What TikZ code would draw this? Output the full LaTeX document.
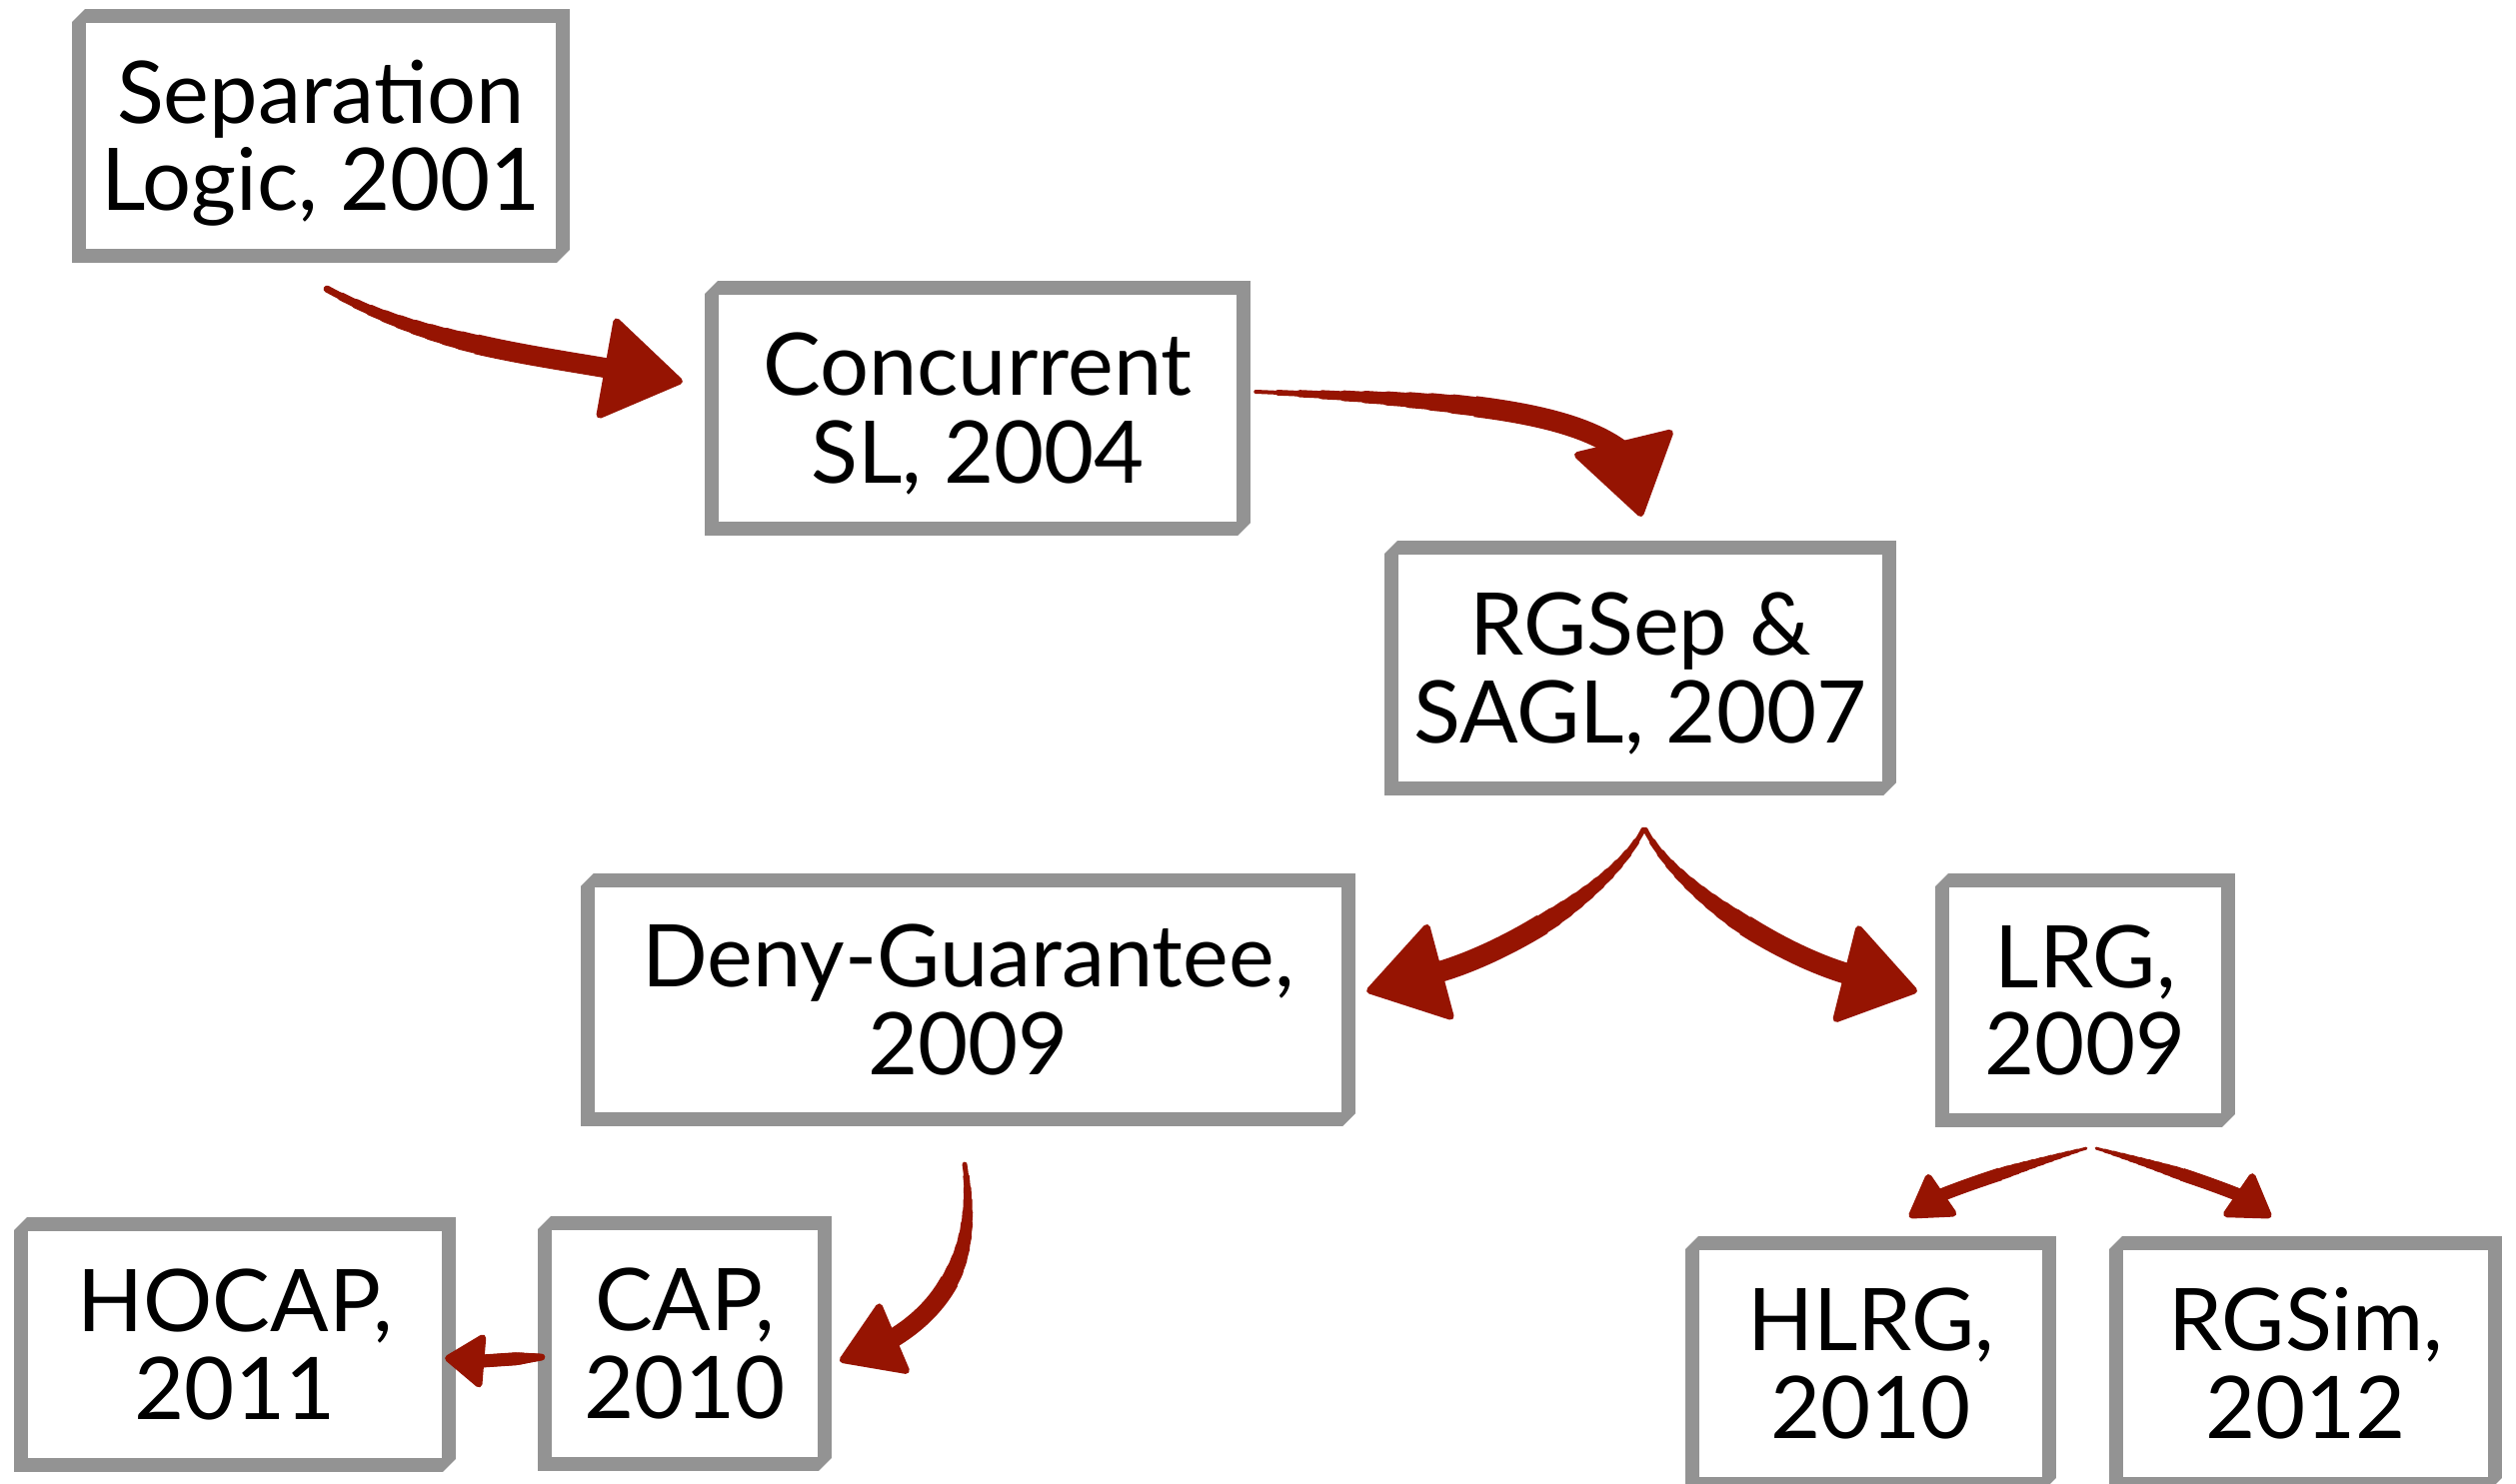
\documentclass[tikz,border=0pt]{standalone}
\usepackage{fontspec}
\setmainfont{Lato}
\usetikzlibrary{arrows.meta,calc}
\definecolor{boxgray}{RGB}{147,147,147}
\definecolor{brushred}{RGB}{150,20,2}
\newcommand\boxline[1]{\raisebox{0pt}[0.62cm][0pt]{#1}}
\newcommand\brushconn[6]{%
  \foreach \k in {0,1,2,3,4,5,6,7,8,9}{%
    \pgfmathsetmacro\brlw{#2+(#3-#2)*\k/10}%
    \pgfmathsetmacro\broff{#4*\k/10+0.001}%
    \pgfmathsetmacro\brsh{#5*0.6}%
    \draw[shaft, line width=\brlw cm, dash pattern=on 100cm off \broff cm, dash phase=100cm, shorten >=\brsh cm] #1;
  }%
  \draw[shaft, line cap=butt, line width=#3cm, dash pattern=on 100cm off #4cm, dash phase=100cm,
        -{Triangle[length=#5cm, width=#6cm, line width=0.07cm, round]}] #1;
}
\begin{document}
\begin{tikzpicture}[x=0.01cm, y=-0.01cm,
  paper/.style={draw=boxgray, line width=0.14cm, fill=white, inner sep=0pt, outer sep=0.07cm,
    align=center, font=\fontsize{24.6pt}{25pt}\selectfont},
  shaft/.style={draw=brushred, line cap=round, line join=round}]
\useasboundingbox (0,0) rectangle (2517,1484);
\fill[white] (0,0) rectangle (2517,1484);

\node[paper, minimum width=4.84cm, minimum height=2.40cm] (sl) at (321,136) {\boxline{Separation}\\\boxline{Logic, 2001}};
\node[paper, minimum width=5.32cm, minimum height=2.41cm] (csl) at (978,408.5) {\boxline{Concurrent}\\\boxline{SL, 2004}};
\node[paper, minimum width=4.98cm, minimum height=2.41cm] (rgsep) at (1641,668.5) {\boxline{RGSep \&}\\\boxline{SAGL, 2007}};
\node[paper, minimum width=7.61cm, minimum height=2.39cm] (deny) at (968.5,1000.5) {\boxline{Deny-Guarantee,}\\\boxline{2009}};
\node[paper, minimum width=2.86cm, minimum height=2.40cm] (lrg) at (2086,1001) {\boxline{LRG,}\\\boxline{2009}};
\node[paper, minimum width=4.28cm, minimum height=2.41cm] (hocap) at (235,1345.5) {\boxline{HOCAP,}\\\boxline{2011}};
\node[paper, minimum width=2.80cm, minimum height=2.41cm] (cap) at (685,1344.5) {\boxline{CAP,}\\\boxline{2010}};
\node[paper, minimum width=3.57cm, minimum height=2.41cm] (hlrg) at (1871.5,1364.5) {\boxline{HLRG,}\\\boxline{2010}};
\node[paper, minimum width=3.79cm, minimum height=2.41cm] (rgsim) at (2306.5,1364.5) {\boxline{RGSim,}\\\boxline{2012}};

\foreach \n in {sl,csl,rgsep,deny,lrg,hocap,cap,hlrg,rgsim}{
  \fill[white] (\n.north west) -- ++(13,0) -- ++(-13,13) -- cycle;
  \fill[white] (\n.south east) -- ++(-13,0) -- ++(13,-13) -- cycle;
}

\brushconn{($(sl.south)+(6,26)$) .. controls +(95,52) and +(-100,-17) .. ($(csl.west)+(-94,-39.5)$) -- ($(csl.west)+(-22,-26.5)$)}{0.07}{0.20}{1.6}{0.82}{1.06}
\brushconn{($(csl.east)+(5,-16.5)$) .. controls +(200,8) and +(-54,-45) .. ($(rgsep.north)+(-14,-86)$) -- ($(rgsep.north)+(1,-24)$)}{0.04}{0.21}{2.2}{0.81}{1.06}
\brushconn{($(rgsep.south)+(3,34)$) .. controls +(-30,60) and +(70,-20) .. ($(deny.east)+(82,-27.5)$) -- ($(deny.east)+(11,-8.5)$)}{0.05}{0.21}{1.4}{0.81}{1.03}
\brushconn{($(rgsep.south)+(5,34)$) .. controls +(30,60) and +(-70,-20) .. ($(lrg.west)+(-86,-26)$) -- ($(lrg.west)+(-18,-9)$)}{0.05}{0.21}{1.4}{0.78}{1.04}
\brushconn{($(deny.south)+(-3.5,38)$) .. controls +(13,85) and +(58,-35) .. ($(cap.east)+(60,-4.5)$) -- ($(cap.east)+(8,17.5)$)}{0.05}{0.19}{1.2}{0.64}{0.80}
\brushconn{($(cap.west)+(4,13.5)$) -- ($(hocap.east)+(26,16.5)$) -- ($(hocap.east)+(-11,13.5)$)}{0.07}{0.13}{0.25}{0.42}{0.58}
\brushconn{($(lrg.south)+(1,21)$) .. controls +(-50,14) and +(40,-16) .. ($(hlrg.north)+(70.5,-41)$) -- ($(hlrg.north)+(38.5,-19)$)}{0.03}{0.13}{0.9}{0.45}{0.54}
\brushconn{($(lrg.south)+(11,21)$) .. controls +(50,14) and +(-40,-16) .. ($(rgsim.north)+(-66.5,-41)$) -- ($(rgsim.north)+(-34.5,-19)$)}{0.03}{0.13}{0.9}{0.45}{0.56}
\end{tikzpicture}
\end{document}
